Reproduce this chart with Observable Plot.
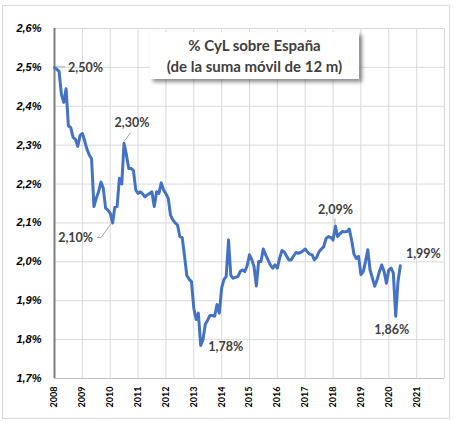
<!DOCTYPE html>
<html><head><meta charset="utf-8">
<script src="https://cdn.jsdelivr.net/npm/d3@7"></script>
<script src="https://cdn.jsdelivr.net/npm/@observablehq/plot@0.6"></script>
<style>
body{margin:0;background:#fff;}
#wrap{position:relative;width:453px;height:422px;font-family:Lato,"Open Sans",sans-serif;}
#border{position:absolute;left:2px;top:5px;width:446px;height:412px;border:1px solid #d9d9d9;pointer-events:none;}
#title{position:absolute;left:150px;top:32px;width:209px;height:47px;background:#fff;box-shadow:3px 3px 4px rgba(0,0,0,0.45);font-weight:bold;font-size:15px;color:#404040;text-align:center;line-height:21px;padding-top:3px;box-sizing:border-box;}
</style></head><body>
<div id="wrap"><div id="border"></div></div>
<script>
// Monthly share (%) of CyL over Spain, Jan 2008 – Jun 2020
const startDate = "2008-01-01";
const values = [
  // 2008
  2.50, 2.495, 2.49, 2.43, 2.41, 2.445, 2.35, 2.345, 2.32, 2.315, 2.297, 2.325,
  // 2009
  2.33, 2.31, 2.29, 2.275, 2.265, 2.142, 2.163, 2.18, 2.205, 2.19, 2.138, 2.133,
  // 2010
  2.125, 2.10, 2.14, 2.142, 2.215, 2.20, 2.305, 2.275, 2.24, 2.24, 2.235, 2.185,
  // 2011
  2.176, 2.18, 2.175, 2.167, 2.172, 2.176, 2.18, 2.142, 2.18, 2.176, 2.203, 2.185,
  // 2012
  2.175, 2.163, 2.12, 2.108, 2.10, 2.095, 2.065, 2.063, 2.015, 1.965, 1.955, 1.949,
  // 2013
  1.88, 1.852, 1.868, 1.785, 1.80, 1.84, 1.85, 1.862, 1.862, 1.86, 1.89, 1.868,
  // 2014
  1.933, 1.955, 1.962, 2.056, 1.965, 1.958, 1.96, 1.962, 1.975, 1.979, 1.975, 1.99,
  // 2015
  2.018, 2.005, 1.988, 1.938, 2.001, 2.001, 2.033, 2.018, 2.005, 1.992, 1.984, 1.992,
  // 2016
  1.984, 2.01, 2.029, 2.025, 2.015, 2.005, 2.005, 2.015, 2.024, 2.022, 2.024, 2.028,
  // 2017
  2.033, 2.025, 2.02, 2.018, 2.005, 2.012, 2.026, 2.033, 2.039, 2.06, 2.065, 2.063,
  // 2018
  2.056, 2.092, 2.065, 2.072, 2.078, 2.077, 2.078, 2.084, 2.056, 2.02, 2.009, 2.014,
  // 2019
  1.967, 1.975, 2.00, 2.031, 1.979, 1.958, 1.937, 1.954, 1.975, 1.992, 1.975, 1.945,
  // 2020
  1.979, 1.984, 1.971, 1.86, 1.949, 1.99
];
const yTicks = [1.7, 1.8, 1.9, 2.0, 2.1, 2.2, 2.3, 2.4, 2.5, 2.6];
const yearLabels = [2008, 2009, 2010, 2011, 2012, 2013, 2014, 2015, 2016, 2017, 2018, 2019, 2020, 2021];
const gridYears = [2008, 2009, 2010, 2011, 2012, 2013, 2014, 2015, 2016, 2017, 2018, 2019, 2020, 2021, 2022];
const annIndex = [0, 30, 25, 63, 121, 147, 149];
const annText = ["2,50%", "2,30%", "2,10%", "1,78%", "2,09%", "1,86%", "1,99%"];
const titleLines = ["% CyL sobre España", "(de la suma móvil de 12 m)"];

// layout (pixel offsets of labels relative to their point, and leader lines)
const annLayout = [
  {dx: 31, dy: 1, leader: [[1, 0], [11, 0]]},
  {dx: 8, dy: -20, leader: [[1, -2], [7, -10]]},
  {dx: -37, dy: 15, leader: [[-15, 15], [-11, 15], [-1, 1]]},
  {dx: 25, dy: 2},
  {dx: 0, dy: -16, leader: [[0, -1], [0, -7]]},
  {dx: -4, dy: 14},
  {dx: 23, dy: -12}
];

const t0 = new Date(startDate);
const dates = values.map((_, i) => d3.utcMonth.offset(t0, i));
const series = values.map((v, i) => ({date: dates[i], value: v}));
const yearDate = y => new Date(Date.UTC(y, 0, 1));
const anns = annIndex.map((i, k) => ({date: dates[i], value: values[i], text: annText[k], ...annLayout[k]}));

function leaders(index, scales) {
  const g = d3.create("svg:g").attr("stroke", "#a6a6a6").attr("fill", "none").attr("stroke-width", 1);
  for (const a of anns) {
    if (!a.leader) continue;
    const px = scales.x(a.date), py = scales.y(a.value);
    g.append("polyline").attr("points", a.leader.map(([dx, dy]) => `${px + dx},${py + dy}`).join(" "));
  }
  return g.node();
}

const fmtY = d => d.toFixed(1).replace(".", ",") + "%";

const chart = Plot.plot({
  width: 453,
  height: 422,
  marginLeft: 54,
  marginRight: 9,
  marginTop: 28,
  marginBottom: 44,
  style: {fontFamily: "Lato, 'Open Sans', sans-serif", background: "transparent", overflow: "visible"},
  x: {type: "utc", domain: [yearDate(2008), yearDate(2022)]},
  y: {domain: [1.7, 2.6]},
  marks: [
    Plot.ruleX(gridYears.map(yearDate), {stroke: "#d9d9d9", strokeWidth: 1}),
    Plot.ruleY(yTicks, {stroke: "#d9d9d9", strokeWidth: 1}),
    Plot.ruleY([1.7], {stroke: "#bfbfbf", strokeWidth: 1}),
    Plot.ruleX([yearDate(2008)], {stroke: "#7f7f7f", strokeWidth: 2}),
    Plot.axisY({ticks: yTicks, tickFormat: fmtY, tickSize: 0, tickPadding: 13, fontSize: 11, fontWeight: "bold", fontStyle: "italic", fontFamily: "'Liberation Sans', Arial, sans-serif", fill: "#000", label: null}),
    Plot.axisX({ticks: yearLabels.map(yearDate), tickFormat: d3.utcFormat("%Y"), tickRotate: -90, tickSize: 0, tickPadding: 8, fontSize: 9, fontWeight: "bold", fill: "#000", label: null}),
    Plot.line(series, {x: "date", y: "value", stroke: "#4472C4", strokeWidth: 3, strokeLinejoin: "round", strokeLinecap: "round"}),
    leaders,
    ...anns.map(a => Plot.text([a], {x: "date", y: "value", text: "text", dx: a.dx, dy: a.dy, fontSize: 12.5, fontWeight: "bold", fill: "#404040"}))
  ]
});
document.getElementById("wrap").appendChild(chart);
const title = document.createElement("div");
title.id = "title";
title.innerHTML = titleLines.join("<br>");
document.getElementById("wrap").appendChild(title);
</script>
</body></html>
